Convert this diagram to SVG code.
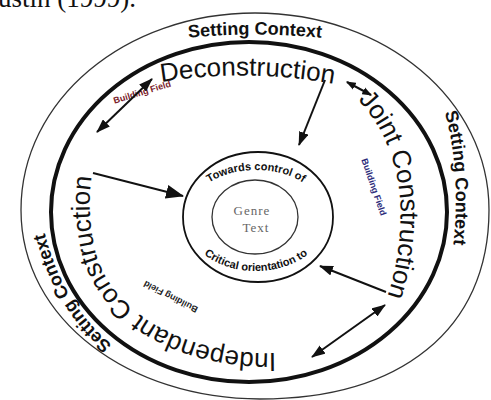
<svg xmlns="http://www.w3.org/2000/svg" width="491" height="400" viewBox="0 0 491 400">
<defs>
<style>
.sans{font-family:"Liberation Sans",Arial,sans-serif;fill:#111}
.big{font-size:26px}
.ctx{font-size:18px;font-weight:bold}
.bf{font-size:9px;font-weight:bold}
.inner{font-size:11px;font-weight:bold}
.conn{stroke:#111;stroke-width:2;fill:none}
.ring{fill:none}
</style>
<marker id="ah" viewBox="0 0 14 10" refX="13" refY="5" markerWidth="7" markerHeight="5" orient="auto-start-reverse" markerUnits="strokeWidth"><path d="M0,0 L14,5 L0,10 z" fill="#111"/></marker>
<marker id="ahb" viewBox="0 0 18 14" refX="17" refY="7" markerWidth="9" markerHeight="7" orient="auto-start-reverse" markerUnits="strokeWidth"><path d="M0,0 L18,7 L0,14 z" fill="#111"/></marker>
<marker id="ahs" viewBox="0 0 8 6" refX="7" refY="3" markerWidth="5" markerHeight="4" orient="auto-start-reverse" markerUnits="strokeWidth"><path d="M0,0 L8,3 L0,6 z" fill="#111"/></marker>
<path id="p-ctx-top" d="M 150,43 Q 253,26 360,43"/>
<path id="p-ctx-right" d="M 437,92 C 455,130 461,200 451,262"/>
<path id="p-ctx-left" d="M 112,345 C 80,318 55,280 43,225"/>
<path id="p-decon" d="M 150,84 Q 247,66 345,86"/>
<path id="p-joint" d="M 358,100 C 387,130 404,175 400,230 C 398,260 393,280 386,300"/>
<path id="p-indep" d="M 276,353 C 180,355 110,310 95,250 C 88,220 88,190 95,160"/>
<path id="p-towards" d="M 187,217 A 69,47 0 0 1 325,217"/>
<path id="p-critical" d="M 184,217 A 72,54 0 0 0 328,217"/>
</defs>
<rect width="491" height="400" fill="#fff"/>
<text x="-2" y="7" font-family="'Liberation Serif',serif" font-size="27" fill="#111">ustin (1999).</text>

<g id="setting-context">
<path class="ring" d="M 21,210 C 21,100 125,13 255,13 C 385,13 489,100 489,210 C 489,330 400,399 260,399 C 130,399 21,320 21,210 Z" stroke="#333" stroke-width="1.3"/>
<text class="sans ctx"><textPath href="#p-ctx-top" startOffset="50%" text-anchor="middle">Setting Context</textPath></text>
<text class="sans ctx"><textPath href="#p-ctx-right" startOffset="22">Setting Context</textPath></text>
<text class="sans ctx"><textPath href="#p-ctx-left" startOffset="0">Setting Context</textPath></text>
</g>

<g id="cycle">
<ellipse class="ring" cx="249" cy="212" rx="198" ry="170" stroke="#111" stroke-width="4"/>
</g>

<g id="deconstruction">
<text class="sans big"><textPath href="#p-decon" startOffset="50%" text-anchor="middle">Deconstruction</textPath></text>
<text class="sans bf" style="fill:#7a2028" transform="translate(143,95) rotate(-17)" text-anchor="middle">Building Field</text>
</g>

<g id="joint-construction">
<text class="sans big"><textPath href="#p-joint">Joint Construction</textPath></text>
<text class="sans bf" style="fill:#2b2b7a" transform="translate(371,188) rotate(71)" text-anchor="middle">Building Field</text>
</g>

<g id="independent-construction">
<text class="sans big"><textPath href="#p-indep">Independant Construction</textPath></text>
<text class="sans bf" style="fill:#222" transform="translate(172,294) rotate(207)" text-anchor="middle">Building Field</text>
</g>

<g id="critical-ring">
<ellipse class="ring" cx="258" cy="217" rx="75" ry="65" stroke="#111" stroke-width="1.8"/>
<text class="sans inner"><textPath href="#p-towards" startOffset="50%" text-anchor="middle">Towards control of</textPath></text>
<text class="sans inner"><textPath href="#p-critical" startOffset="50%" text-anchor="middle">Critical orientation to</textPath></text>
</g>

<g id="genre-text">
<ellipse class="ring" cx="255" cy="217" rx="43" ry="37" stroke="#333" stroke-width="1.3"/>
<text x="252" y="215" font-family="'Liberation Serif',serif" font-size="13" fill="#666" text-anchor="middle" letter-spacing="1">Genre</text>
<text x="256" y="232" font-family="'Liberation Serif',serif" font-size="13" fill="#666" text-anchor="middle" letter-spacing="1">Text</text>
</g>

<g id="connectors">
<path class="conn" d="M 97,132 L 152,79" marker-start="url(#ah)" marker-end="url(#ah)"/>
<path class="conn" d="M 325,80 L 299,145" marker-end="url(#ah)"/>
<path class="conn" d="M 347,82 L 371,95" stroke-width="1.8" marker-start="url(#ahs)" marker-end="url(#ahs)"/>
<path class="conn" d="M 93,173 L 183,196" marker-end="url(#ahb)"/>
<path class="conn" d="M 386,292 L 320,266" marker-end="url(#ah)"/>
<path class="conn" d="M 385,305 L 312,357" marker-start="url(#ah)" marker-end="url(#ah)"/>
</g>
</svg>
